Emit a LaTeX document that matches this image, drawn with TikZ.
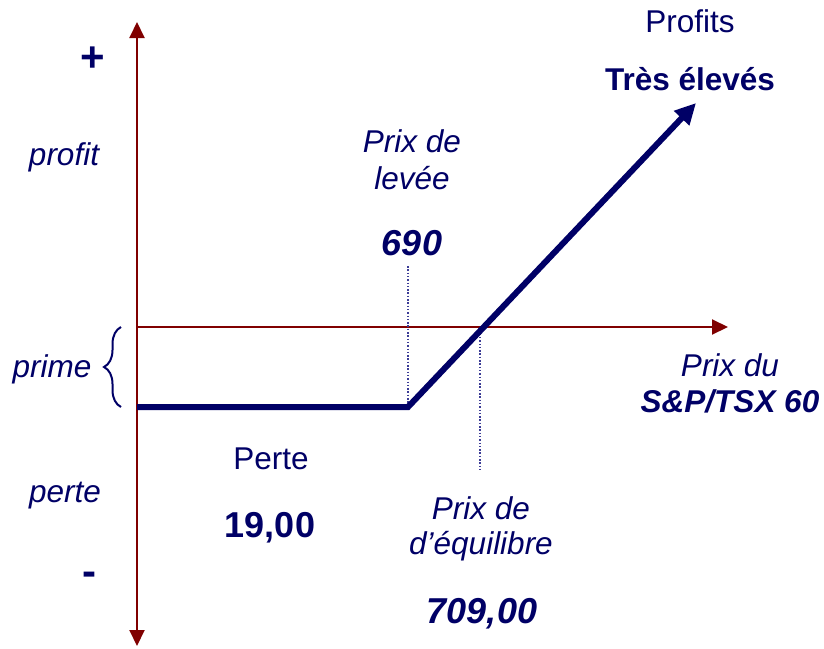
\documentclass[tikz,border=0pt]{standalone}
\usepackage{fontspec}
\setmainfont{Liberation Sans}
\usepackage{tikz}
\usetikzlibrary{
  arrows.meta
  % for the brace
  , decorations.pathreplacing
  % ------
  , calc
}
\definecolor{navy}{RGB}{0,0,102}
\definecolor{axisred}{RGB}{128,0,0}
\definecolor{dotblue}{RGB}{60,60,150}

\begin{document}
\begin{tikzpicture}[x=1pt,y=-1pt,
    >={Triangle[length=16pt,width=15pt]},
    txt/.style={text=navy, inner sep=0pt, anchor=base,
      font=\fontsize{31.5}{36}\selectfont},
    itxt/.style={txt, font=\fontsize{31.5}{36}\selectfont\itshape},
    btxt/.style={txt, font=\fontsize{31.5}{36}\selectfont\bfseries},
    bitxt/.style={txt, font=\fontsize{31.5}{36}\selectfont\bfseries\itshape},
    num/.style={txt, font=\fontsize{36}{42}\selectfont\bfseries},
    inum/.style={txt, font=\fontsize{36}{42}\selectfont\bfseries\itshape},
    sign/.style={text=navy, inner sep=0pt,
      font=\fontsize{42}{48}\selectfont\bfseries},
    axis/.style={draw=axisred, line width=2pt},
    guide/.style={draw=dotblue, line width=1.5pt,
      dash pattern=on 1.5pt off 1.8pt}]
      \useasboundingbox (0,0) rectangle (824,648);

      % axes
      \coordinate (O) at (137,327);
      \coordinate (ytop) at (137,22);
      \coordinate (ybot) at (137,646);
      \coordinate (xend) at (728,327);
      \draw [axis, <->] (ybot) -- (ytop);
      \draw [axis, ->] (O) -- (xend);

      % guides
      \coordinate (K) at (408,407);
      \coordinate (Ktop) at (408,266);
      \coordinate (BE) at (480,327);
      \coordinate (BEbot) at (480,472);
      \draw [guide] (Ktop) -- (K);
      \draw [guide] (BE) -- (BEbot);

      % payoff
      \coordinate (P0) at (137,407);
      \coordinate (tip) at (696,103);
      \draw [draw=navy,
        line width=6pt,
        -{Triangle[length=21pt,width=20pt]}] (P0) -- (K) -- (tip);

      % premium brace
      \coordinate (pb) at (121,407);
      \coordinate (pt) at (121,327);
      \draw [navy,
        line width=2pt,
        decorate,
        decoration={brace, amplitude=17pt}] (pb) -- (pt);

      % left side
      \node [sign] (plus) at (93,59) {+};
      \node [itxt] (profit) at (64,165) {profit};
      \node [itxt] (prime) at (52,377) {prime};
      \node [itxt] (perte) at (65,502) {perte};
      \node [sign] (minus) at (89,579) {-};

      % strike
      \node [itxt] (strike1) at (412,152) {Prix de};
      \node [itxt] (strike2) at (412,189) {levée};
      \node [inum] (strike) at (412,255) {690};

      % top right
      \node [txt] (profits) at (690,32) {Profits};
      \node [btxt] (high) at (690,90) {Très élevés};
      \node [itxt] (under1) at (730,376) {Prix du};
      \node [bitxt] (under2) at (730,412) {S\&P/TSX 60};

      % loss and break-even
      \node [txt] (losslbl) at (271,469) {Perte};
      \node [num] (loss) at (270,537) {19,00};
      \node [itxt] (be1) at (481,519) {Prix de};
      \node [itxt] (be2) at (481,554) {d’équilibre};
      \node [inum] (be) at (482,623) {709,00};

    \end{tikzpicture}
\end{document}
